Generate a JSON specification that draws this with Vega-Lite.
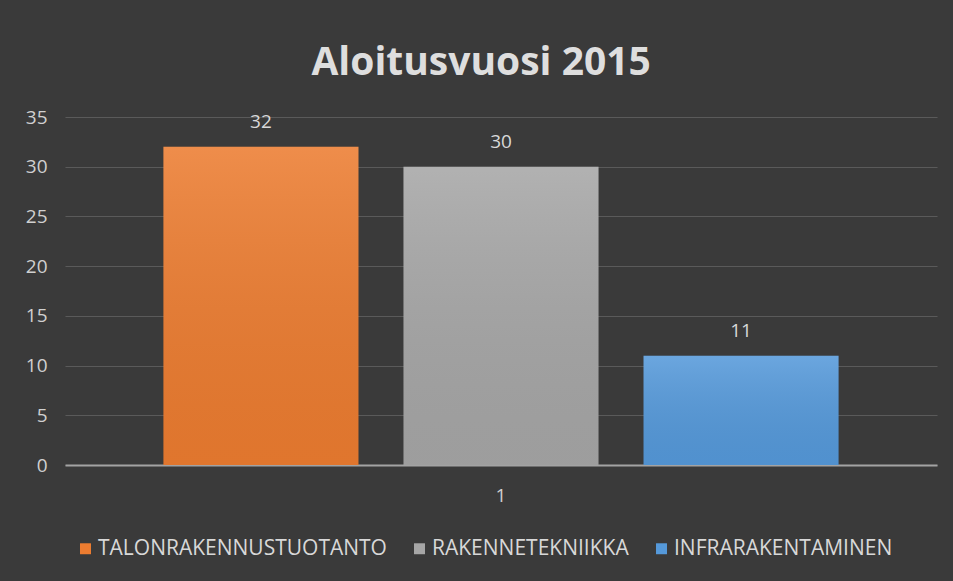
{
  "$schema": "https://vega.github.io/schema/vega-lite/v6.json",
  "width": 872,
  "height": 348,
  "autosize": {"type": "none"},
  "padding": {"left": 65, "top": 117, "right": 16, "bottom": 116},
  "background": "#3a3a3a",
  "config": {"view": {"stroke": null}},
  "title": {
    "text": "Aloitusvuosi 2015",
    "font": "Open Sans",
    "fontSize": 39,
    "fontWeight": "bold",
    "color": "#dedede",
    "anchor": "middle",
    "frame": "bounds",
    "baseline": "alphabetic",
    "offset": -6
  },
  "data": {
    "values": [
      {"cat": "1", "series": "TALONRAKENNUSTUOTANTO", "value": 32},
      {"cat": "1", "series": "RAKENNETEKNIIKKA", "value": 30},
      {"cat": "1", "series": "INFRARAKENTAMINEN", "value": 11}
    ]
  },
  "encoding": {
    "x": {
      "field": "cat",
      "type": "nominal",
      "scale": {"paddingInner": 0, "paddingOuter": 0},
      "axis": {
        "title": null,
        "labelAngle": 0,
        "domain": true,
        "domainColor": "#a3a3a3",
        "domainWidth": 2,
        "ticks": false,
        "labelPadding": 21,
        "labelFont": "Open Sans",
        "labelFontSize": 19,
        "labelColor": "#d0d0d0"
      }
    },
    "xOffset": {
      "field": "series",
      "type": "nominal",
      "sort": ["TALONRAKENNUSTUOTANTO", "RAKENNETEKNIIKKA", "INFRARAKENTAMINEN"],
      "scale": {"paddingInner": 0.1875, "paddingOuter": 0.41}
    },
    "y": {
      "field": "value",
      "type": "quantitative",
      "scale": {"domain": [0, 35], "nice": false},
      "axis": {
        "title": null,
        "values": [0, 5, 10, 15, 20, 25, 30, 35],
        "domain": false,
        "ticks": false,
        "grid": true,
        "gridColor": "#5a5a5a",
        "gridWidth": 1,
        "labelPadding": 18,
        "labelFont": "Open Sans",
        "labelFontSize": 19,
        "labelColor": "#d0d0d0"
      }
    }
  },
  "layer": [
    {
      "mark": {"type": "bar"},
      "encoding": {
        "color": {
          "field": "series",
          "type": "nominal",
          "sort": ["TALONRAKENNUSTUOTANTO", "RAKENNETEKNIIKKA", "INFRARAKENTAMINEN"],
          "scale": {"range": ["#ec7c30", "#a6a6a6", "#5599da"]},
          "legend": {
            "title": null,
            "orient": "none",
            "direction": "horizontal",
            "legendX": 10,
            "legendY": 421,
            "symbolType": "square",
            "symbolSize": 120,
            "symbolStrokeWidth": 0,
            "labelFont": "Open Sans",
            "labelFontSize": 21,
            "labelColor": "#d8d8d8",
            "labelOffset": 2,
            "columnPadding": 22,
            "labelLimit": 400
          }
        }
      }
    },
    {
      "mark": {
        "type": "bar",
        "fill": {
          "gradient": "linear",
          "x1": 0, "y1": 0, "x2": 0, "y2": 1,
          "stops": [
            {"offset": 0, "color": "rgba(255,255,255,0.13)"},
            {"offset": 1, "color": "rgba(0,0,0,0.05)"}
          ]
        }
      }
    },
    {
      "mark": {
        "type": "text",
        "baseline": "middle",
        "dy": -25,
        "font": "Open Sans",
        "fontSize": 19,
        "color": "#d8d8d8"
      },
      "encoding": {
        "text": {"field": "value", "type": "quantitative"}
      }
    }
  ]
}
